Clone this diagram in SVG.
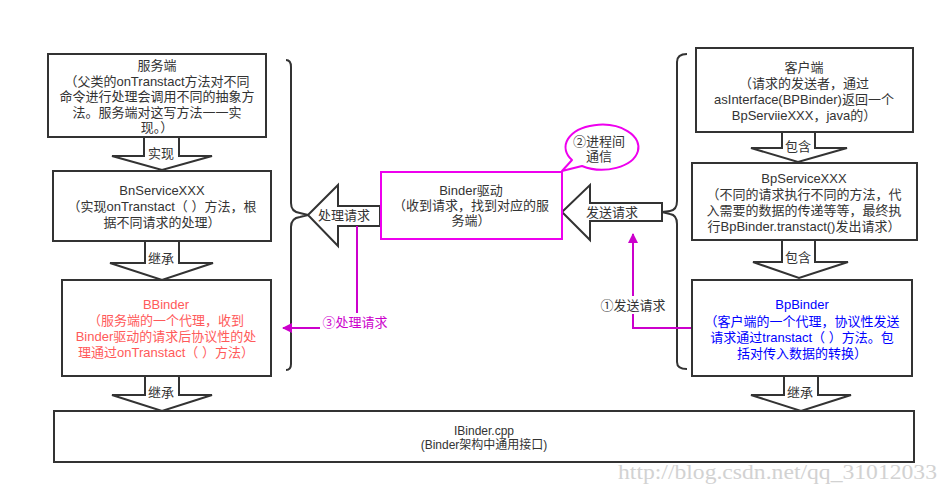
<svg xmlns="http://www.w3.org/2000/svg" width="949" height="493" viewBox="0 0 949 493">
<style>
  .box{fill:#fff;stroke:#333;stroke-width:2}
  .blk{fill:#fff;stroke:#333;stroke-width:2;stroke-linejoin:miter}
  .mbox{fill:#fff;stroke:#ee00ee;stroke-width:2}
  .brace{fill:none;stroke:#333;stroke-width:2}
  .mline{fill:none;stroke:#cc00cc;stroke-width:2}
  text{font-family:"Liberation Sans","Noto Sans CJK SC",sans-serif;font-size:13px;fill:#333;text-anchor:middle;dominant-baseline:central}
  .red{fill:#ff5a5a}
  .blue{fill:#0000ff}
  .mag{fill:#cc00cc}
  .small{font-size:12px}
  .wm{font-family:"Liberation Serif",serif;font-size:20px;fill:#d2d2d2;text-anchor:start;dominant-baseline:alphabetic}
</style>
<defs>
  <marker id="mh" markerWidth="10" markerHeight="10" refX="9" refY="5" orient="auto" markerUnits="userSpaceOnUse" viewBox="0 0 10 10">
    <path d="M0,0 L10,5 L0,10 z" fill="#cc00cc"/>
  </marker>
</defs>

<g id="connectors">
  <polygon class="blk" points="144,137 179,137 179,156 212,156 162,170 112,156 144,156"/>
  <polygon class="blk" points="145,241 179,241 179,263 213,263 162,280 110,263 145,263"/>
  <polygon class="blk" points="145,376 179,376 179,395 212,395 162,411 112,395 145,395"/>
  <polygon class="blk" points="782,131 815,131 815,148 847,148 798,162 751,148 782,148"/>
  <polygon class="blk" points="782,240 815,240 815,262 848,262 799,278 753,262 782,262"/>
  <polygon class="blk" points="784,376 818,376 818,395 851,395 801,411 751,395 784,395"/>
  <polygon class="blk" points="308,215 338,185 338,206 380,206 380,226 338,226 338,246"/>
  <polygon class="blk" points="562,212 590,185 590,203 662,203 662,221 590,221 590,240"/>
  <path class="brace" d="M286,60 Q291,60 291,67 L291,203 Q291,212 300,213 L308,215 L300,217 Q291,218 291,227 L291,364 Q291,370 286,370"/>
  <path class="brace" d="M687,54 Q677,54 677,62 L677,201 Q677,210 670,211 L662,212 L670,214 Q677,215 677,224 L677,362 Q677,369 687,369"/>
  <path class="mline" d="M692,328 L633,328 L633,234" marker-end="url(#mh)"/>
  <path class="mline" d="M357,226 L357,328 L283,328" marker-end="url(#mh)"/>
  <text x="161" y="153">实现</text>
  <text x="161" y="258">继承</text>
  <text x="161" y="392">继承</text>
  <text x="798" y="146">包含</text>
  <text x="798" y="257">包含</text>
  <text x="800" y="392">继承</text>
  <text x="344" y="215">处理请求</text>
  <text x="612" y="212">发送请求</text>
  <rect x="598" y="296" width="70" height="18" fill="#fff"/>
  <text x="633" y="305">①发送请求</text>
  <rect x="320" y="313" width="70" height="18" fill="#fff"/>
  <text class="mag" x="355" y="322">③处理请求</text>
</g>

<g id="server">
  <rect class="box" x="48" y="54" width="218" height="83"/>
  <text x="157" y="65">服务端</text>
  <text x="157" y="81">（父类的onTranstact方法对不同</text>
  <text x="157" y="96.5">命令进行处理会调用不同的抽象方</text>
  <text x="157" y="112">法。服务端对这写方法一一实</text>
  <text x="157" y="127.5">现。）</text>
</g>

<g id="bnservice">
  <rect class="box" x="53" y="171" width="218" height="70"/>
  <text x="162" y="190">BnServiceXXX</text>
  <text x="162" y="206">（实现onTranstact（ ）方法，根</text>
  <text x="162" y="222">据不同请求的处理）</text>
</g>

<g id="bbinder">
  <rect class="box" x="62" y="280" width="209" height="96"/>
  <text class="red" x="166" y="304">BBinder</text>
  <text class="red" x="166" y="320">（服务端的一个代理，收到</text>
  <text class="red" x="166" y="336">Binder驱动的请求后协议性的处</text>
  <text class="red" x="166" y="352">理通过onTranstact（ ）方法）</text>
</g>

<g id="binder-driver">
  <rect class="mbox" x="381" y="172" width="181" height="67"/>
  <text x="471" y="190">Binder驱动</text>
  <text x="471" y="205">（收到请求，找到对应的服</text>
  <text x="471" y="220">务端）</text>
</g>

<g id="ipc-note">
  <path d="M562,171 L572,160 A36.5,22.5 0 1 1 582,166 Z" fill="#fff" stroke="#ee00ee" stroke-width="2" stroke-linejoin="round"/>
  <text x="599" y="141">②进程间</text>
  <text x="599" y="156">通信</text>
</g>

<g id="client">
  <rect class="box" x="696" y="48" width="217" height="84"/>
  <text x="804" y="67">客户端</text>
  <text x="804" y="83">（请求的发送者，通过</text>
  <text x="804" y="99">asInterface(BPBinder)返回一个</text>
  <text x="804" y="115">BpServiieXXX，java的）</text>
</g>

<g id="bpservice">
  <rect class="box" x="692" y="163" width="225" height="77"/>
  <text x="804" y="178">BpServiceXXX</text>
  <text x="804" y="194">（不同的请求执行不同的方法，代</text>
  <text x="804" y="210">入需要的数据的传递等等，最终执</text>
  <text x="804" y="226">行BpBinder.transtact()发出请求）</text>
</g>

<g id="bpbinder">
  <rect class="box" x="692" y="280" width="220" height="96"/>
  <text class="blue" x="802" y="304">BpBinder</text>
  <text class="blue" x="802" y="321">（客户端的一个代理，协议性发送</text>
  <text class="blue" x="802" y="337">请求通过transtact（ ）方法。包</text>
  <text class="blue" x="802" y="353">括对传入数据的转换）</text>
</g>

<g id="ibinder">
  <rect class="box" x="54" y="411" width="860" height="51"/>
  <text class="small" x="484" y="431">IBinder.cpp</text>
  <text class="small" x="484" y="445">(Binder架构中通用接口)</text>
</g>

<text class="wm" x="618" y="479" textLength="319" lengthAdjust="spacingAndGlyphs">http://blog.csdn.net/qq_31012033</text>
</svg>
